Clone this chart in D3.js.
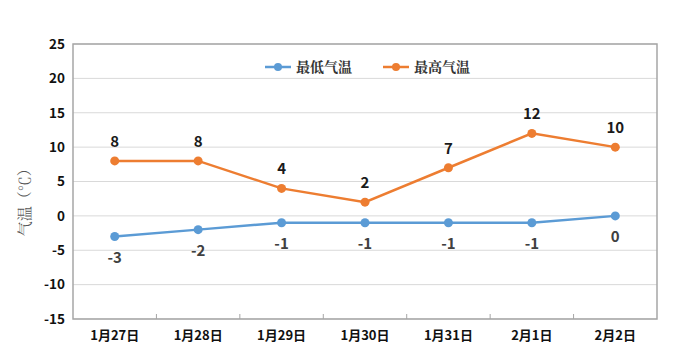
<!DOCTYPE html>
<html><head><meta charset="utf-8">
<script src="https://cdn.jsdelivr.net/npm/d3@7"></script>
<style>body{margin:0;background:#fff}svg{display:block}</style>
</head><body>
<svg id="c" width="684" height="360"></svg>
<script>
const categories = ["1月27日","1月28日","1月29日","1月30日","1月31日","2月1日","2月2日"];
const minTemp = [-3,-2,-1,-1,-1,-1,0];
const maxTemp = [8,8,4,2,7,12,10];
const yTicks = [25,20,15,10,5,0,-5,-10,-15];
const seriesNames = ["最低气温","最高气温"];

const svg = d3.select("#c");
const W=684,H=360;
const m={l:73,r:684-657,t:44,b:360-319};
const x = d3.scaleBand().domain(categories).range([m.l,W-m.r]);
const y = d3.scaleLinear().domain([-15,25]).range([H-m.b,m.t]);
const font = "'Noto Sans CJK SC','Noto Sans',sans-serif";

// grid
svg.append("g").selectAll("line").data(yTicks).join("line")
  .attr("x1",m.l).attr("x2",W-m.r).attr("y1",d=>y(d)).attr("y2",d=>y(d))
  .attr("stroke","#d9d9d9").attr("stroke-width",1);
// border
svg.append("rect").attr("x",m.l).attr("y",m.t).attr("width",W-m.l-m.r).attr("height",H-m.t-m.b)
  .attr("fill","none").attr("stroke","#a6a6a6").attr("stroke-width",1.5);

// y axis
const ya = svg.append("g").attr("transform",`translate(${m.l},0)`)
  .call(d3.axisLeft(y).tickValues(yTicks).tickFormat(d=>String(d)).tickSize(0).tickPadding(8));
ya.select(".domain").remove();
ya.selectAll("text").attr("font-family",font).attr("font-size",13.5).attr("font-weight","bold").attr("fill","#111");

// x axis
const xa = svg.append("g").attr("transform",`translate(0,${H-m.b})`)
  .call(d3.axisBottom(x).tickSize(0).tickPadding(12));
xa.select(".domain").remove();
xa.selectAll("text").attr("font-family",font).attr("font-size",13).attr("font-weight","bold").attr("fill","#111");
// category separators
const bounds = categories.slice(1).map(c=>x(c));
svg.append("g").selectAll("line").data(bounds).join("line")
  .attr("x1",d=>d).attr("x2",d=>d).attr("y1",H-m.b).attr("y2",H-m.b-5)
  .attr("stroke","#a6a6a6").attr("stroke-width",1);

// y title
svg.append("text").attr("transform",`translate(30,${y(2.5)}) rotate(-90)`)
  .attr("text-anchor","middle").attr("font-family","'Noto Serif CJK SC','Noto Sans CJK SC',serif")
  .attr("font-size",15).attr("fill","#555").text("气温（℃）");

const cx = d=>x(d)+x.bandwidth()/2;
const series = [
  {name:seriesNames[0],vals:minTemp,color:"#5b9bd5",dy:26,lc:"#404040"},
  {name:seriesNames[1],vals:maxTemp,color:"#ed7d31",dy:-14,lc:"#1a1a1a"}
];
const line = d3.line().x((d,i)=>cx(categories[i])).y(d=>y(d));
series.forEach(s=>{
  svg.append("path").datum(s.vals).attr("d",line).attr("fill","none")
    .attr("stroke",s.color).attr("stroke-width",2.5);
  svg.append("g").selectAll("circle").data(s.vals).join("circle")
    .attr("cx",(d,i)=>cx(categories[i])).attr("cy",d=>y(d)).attr("r",4.5).attr("fill",s.color);
  svg.append("g").selectAll("text").data(s.vals).join("text")
    .attr("x",(d,i)=>cx(categories[i])).attr("y",d=>y(d)+s.dy)
    .attr("text-anchor","middle").attr("font-family",font).attr("font-size",15).attr("font-weight","bold")
    .attr("fill",s.lc).text(d=>String(d));
});

// legend
const lg = svg.append("g");
const lx=[265,383], ly=67;
series.forEach((s,i)=>{
  const g=lg.append("g").attr("transform",`translate(${lx[i]},${ly})`);
  g.append("line").attr("x1",0).attr("x2",26).attr("stroke",s.color).attr("stroke-width",2.5);
  g.append("circle").attr("cx",13).attr("r",4).attr("fill",s.color);
  g.append("text").attr("x",31).attr("y",5).attr("font-family","'Noto Serif CJK SC','Noto Sans CJK SC',serif")
    .attr("font-size",14).attr("font-weight","bold").attr("fill","#333").text(s.name);
});
</script>
</body></html>
